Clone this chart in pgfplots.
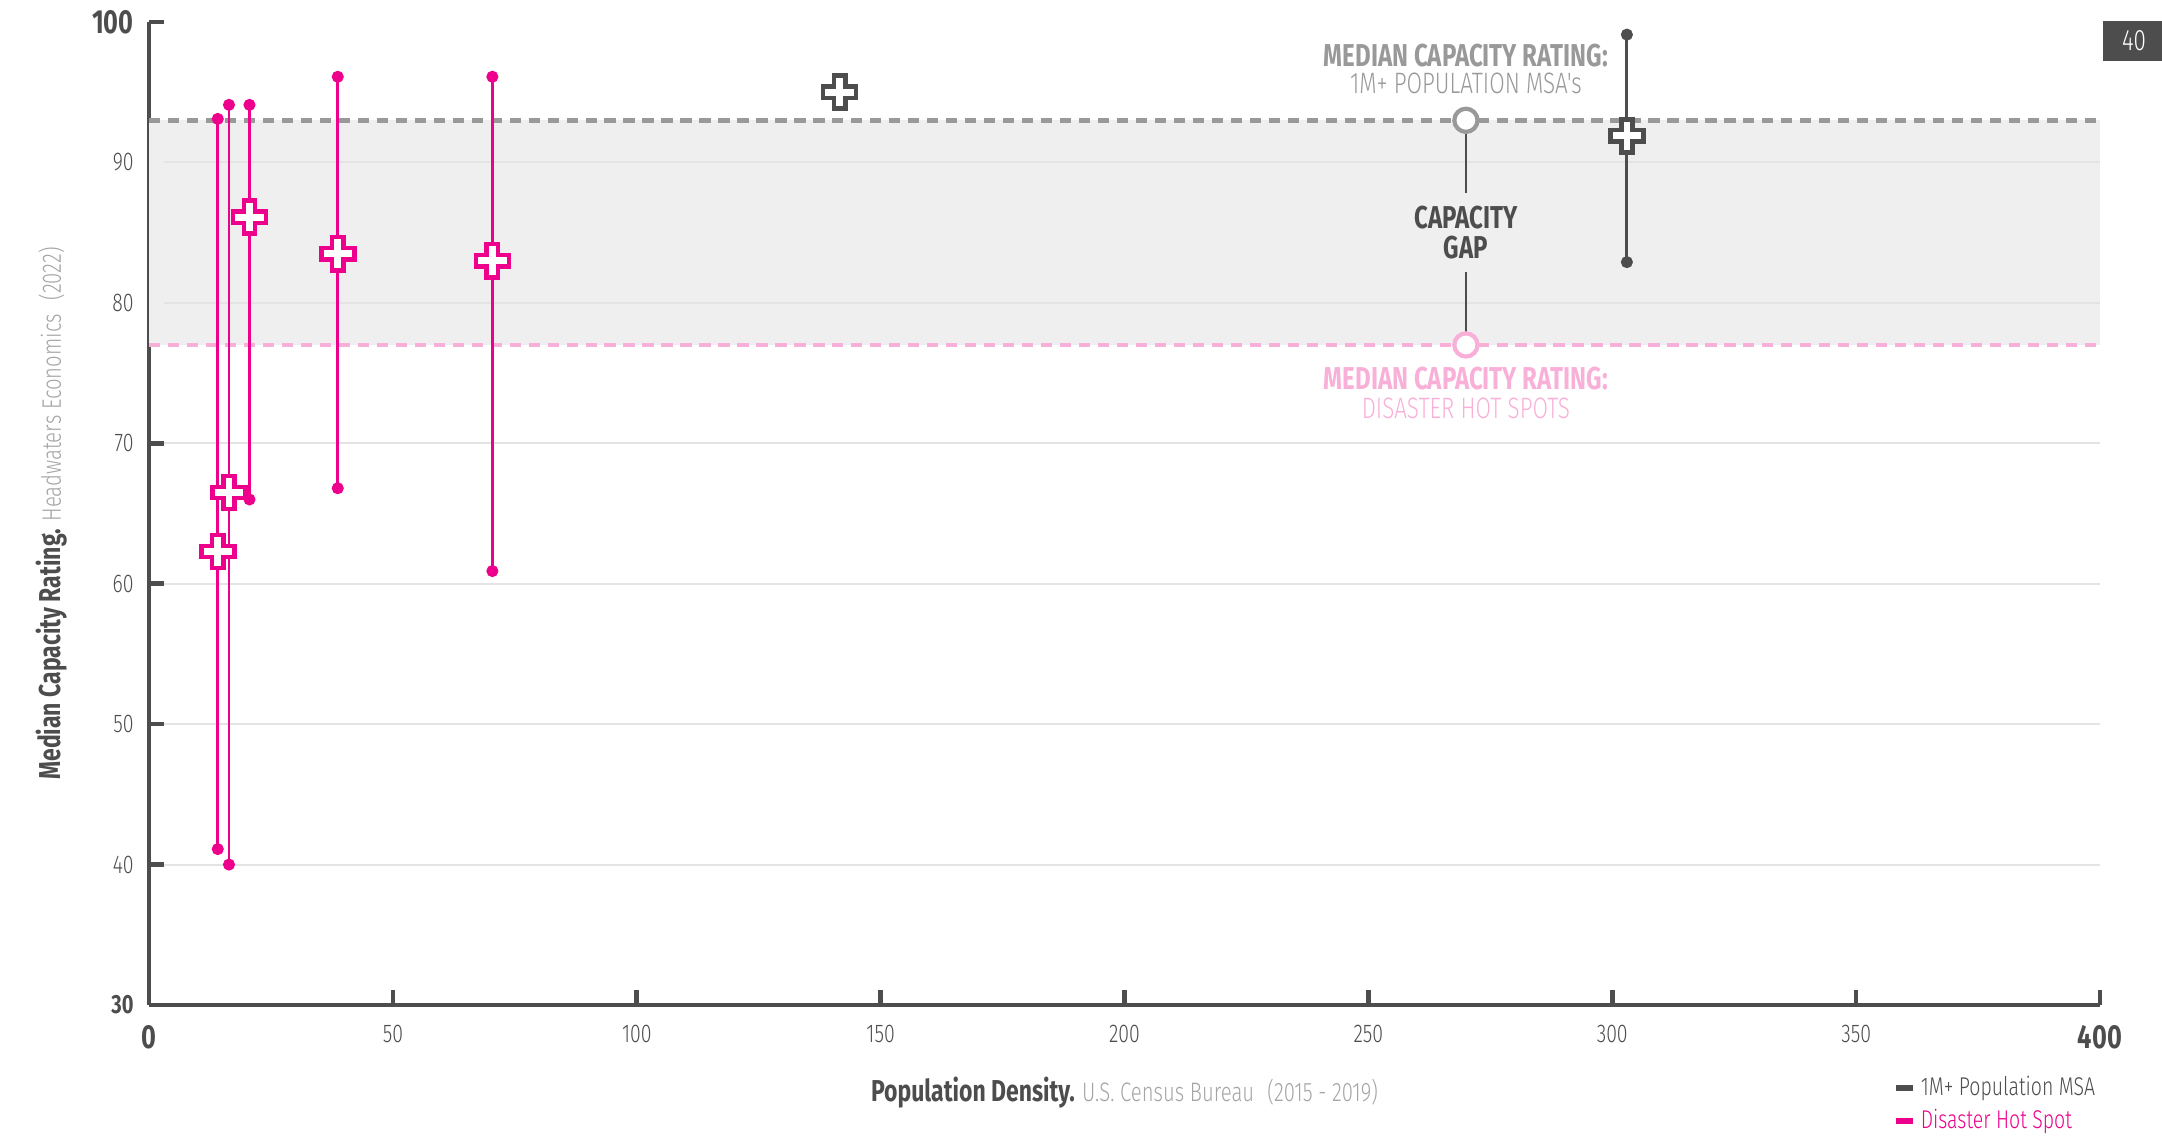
\documentclass[border=0pt]{standalone}
\usepackage{fontspec}
\setmainfont{Fira Sans}[FakeStretch=0.76]
\newfontfamily\lightfont{Fira Sans Light}[FakeStretch=0.76]
\usepackage{pgfplots}
\pgfplotsset{compat=1.18}

\definecolor{hotpink}{RGB}{236,0,140}
\definecolor{lightpink}{RGB}{248,176,216}
\definecolor{medgray}{RGB}{153,153,153}
\definecolor{darkg}{RGB}{77,77,77}
\definecolor{bandgray}{RGB}{239,239,239}
\definecolor{gridgray}{RGB}{228,228,228}
\definecolor{srcgray}{RGB}{165,165,165}

% outlined plus sign used for the medians
\pgfdeclareplotmark{medcross}{%
  \pgfsetcornersarced{\pgfpoint{0.6pt}{0.6pt}}%
  \pgfpathmoveto{\pgfpoint{-0.34\pgfplotmarksize}{\pgfplotmarksize}}%
  \pgfpathlineto{\pgfpoint{0.34\pgfplotmarksize}{\pgfplotmarksize}}%
  \pgfpathlineto{\pgfpoint{0.34\pgfplotmarksize}{0.34\pgfplotmarksize}}%
  \pgfpathlineto{\pgfpoint{\pgfplotmarksize}{0.34\pgfplotmarksize}}%
  \pgfpathlineto{\pgfpoint{\pgfplotmarksize}{-0.34\pgfplotmarksize}}%
  \pgfpathlineto{\pgfpoint{0.34\pgfplotmarksize}{-0.34\pgfplotmarksize}}%
  \pgfpathlineto{\pgfpoint{0.34\pgfplotmarksize}{-\pgfplotmarksize}}%
  \pgfpathlineto{\pgfpoint{-0.34\pgfplotmarksize}{-\pgfplotmarksize}}%
  \pgfpathlineto{\pgfpoint{-0.34\pgfplotmarksize}{-0.34\pgfplotmarksize}}%
  \pgfpathlineto{\pgfpoint{-\pgfplotmarksize}{-0.34\pgfplotmarksize}}%
  \pgfpathlineto{\pgfpoint{-\pgfplotmarksize}{0.34\pgfplotmarksize}}%
  \pgfpathlineto{\pgfpoint{-0.34\pgfplotmarksize}{0.34\pgfplotmarksize}}%
  \pgfpathclose
  \pgfusepathqfillstroke
}

\pgfplotsset{
  range/.style={line width=0.8pt, mark=*, mark size=1.3pt, forget plot},
  med/.style={only marks, mark=medcross, mark size=4.7pt, line width=1.3pt,
    mark options={fill=white}, forget plot},
}

\begin{document}
\begin{tikzpicture}
\useasboundingbox (-1.49,-1.33) rectangle (20.13,10.05);
\begin{axis}[
  at={(0,0)}, anchor=south west,
  scale only axis, width=19.51cm, height=9.83cm,
  xmin=0, xmax=400, ymin=30, ymax=100,
  clip=false,
  axis x line*=bottom, axis y line*=left,
  axis line style={draw=darkg, line width=1pt},
  xtick={0,50,...,400}, ytick={30,40,...,100},
  xticklabels={{\normalfont\fontsize{9.5}{10}\selectfont\bfseries 0},50,100,150,200,250,300,350,{\normalfont\fontsize{9.5}{10}\selectfont\bfseries 400}},
  yticklabels={{\normalfont\fontsize{7.5}{8}\selectfont\bfseries 30},40,50,60,70,80,90,{\normalfont\fontsize{9.5}{10}\selectfont\bfseries 100}},
  tick align=inside, major tick length=0.15cm,
  tick style={draw=darkg, line width=1.3pt},
  xticklabel style={font=\lightfont\fontsize{7.3}{8}\selectfont, text=darkg, yshift=-0.08cm},
  yticklabel style={font=\lightfont\fontsize{7.3}{8}\selectfont, text=darkg, xshift=-0.03cm},
  legend style={at={(1,0)}, anchor=north east, yshift=-0.66cm, draw=none, fill=none,
    font=\lightfont\fontsize{7.3}{8}\selectfont, row sep=0pt, inner sep=0pt,
    nodes={inner sep=1.2pt}},
  legend cell align=left,
  legend image code/.code={\draw[line width=1.8pt,#1] (0cm,0cm) -- (0.17cm,0cm);},
]
% capacity gap band and grid
\fill[bandgray] (axis cs:0,77) rectangle (axis cs:400,93);
\pgfplotsinvokeforeach{40,50,...,90}{\draw[gridgray, line width=0.6pt] (axis cs:3,#1) -- (axis cs:400,#1);}

% medians of the two groups
\addplot[medgray, line width=1.3pt, dash pattern=on 3.2pt off 2.2pt, forget plot] coordinates {(0,93) (400,93)};
\addplot[lightpink, line width=1.3pt, dash pattern=on 3.2pt off 2.2pt, forget plot] coordinates {(0,77) (400,77)};

% capacity gap marker
\addplot[darkg, line width=0.8pt, forget plot] coordinates {(270,93) (270,87.8)};
\addplot[darkg, line width=0.8pt, forget plot] coordinates {(270,82.2) (270,77)};
\addplot[only marks, mark=*, mark size=3.3pt, mark options={fill=white, draw=medgray, line width=1.2pt}, forget plot] coordinates {(270,93)};
\addplot[only marks, mark=*, mark size=3.3pt, mark options={fill=white, draw=lightpink, line width=1.2pt}, forget plot] coordinates {(270,77)};

% disaster hot spots: min - max
\addplot[range, hotpink] coordinates {(14.1,41.1) (14.1,93.1)};
\addplot[range, hotpink] coordinates {(16.4,40.0) (16.4,94.1)};
\addplot[range, hotpink] coordinates {(20.6,66.0) (20.6,94.1)};
\addplot[range, hotpink] coordinates {(38.7,66.8) (38.7,96.1)};
\addplot[range, hotpink] coordinates {(70.4,60.9) (70.4,96.1)};
% 1M+ population MSA: min - max
\addplot[range, darkg] coordinates {(303.0,82.9) (303.0,99.1)};

% medians
\addplot[med, hotpink] coordinates {(14.1,62.3) (16.4,66.5) (20.6,86.1) (38.7,83.5) (70.4,83.0)};
\addplot[med, darkg] coordinates {(141.6,95.0) (303.0,91.9)};

\node[font=\fontsize{9}{10}\selectfont\bfseries, text=medgray] at (axis cs:270,97.6) {MEDIAN CAPACITY RATING:};
\node[font=\lightfont\fontsize{8.4}{9}\selectfont, text=medgray] at (axis cs:270,95.6) {1M+ POPULATION MSA's};
\node[font=\fontsize{9}{10}\selectfont\bfseries, text=darkg, align=center] at (axis cs:270,85.0) {CAPACITY\\[-1.5pt]GAP};
\node[font=\fontsize{9}{10}\selectfont\bfseries, text=lightpink] at (axis cs:270,74.6) {MEDIAN CAPACITY RATING:};
\node[font=\lightfont\fontsize{8.4}{9}\selectfont, text=lightpink] at (axis cs:270,72.5) {DISASTER HOT SPOTS};

\node[xshift=-0.97cm, rotate=90, text=darkg] at (rel axis cs:0,0.5)
  {\fontsize{8.6}{9}\selectfont\bfseries Median Capacity Rating. {\lightfont\mdseries\fontsize{7.6}{8}\selectfont\color{srcgray}Headwaters Economics\enspace(2022)}};
\node[yshift=-0.88cm, text=darkg] at (rel axis cs:0.5,0)
  {\fontsize{8.6}{9}\selectfont\bfseries Population Density. {\lightfont\mdseries\fontsize{7.6}{8}\selectfont\color{srcgray}U.S. Census Bureau\enspace(2015 - 2019)}};

\addlegendimage{darkg}
\addlegendentry{\textcolor{darkg}{1M+ Population MSA}}
\addlegendimage{hotpink}
\addlegendentry{\textcolor{hotpink}{Disaster Hot Spot}}
\end{axis}
\fill[darkg] (19.54,9.44) rectangle (20.13,9.84);
\node[text=white, font=\lightfont\fontsize{8.4}{9}\selectfont] at (19.85,9.64) {40};
\end{tikzpicture}
\end{document}
